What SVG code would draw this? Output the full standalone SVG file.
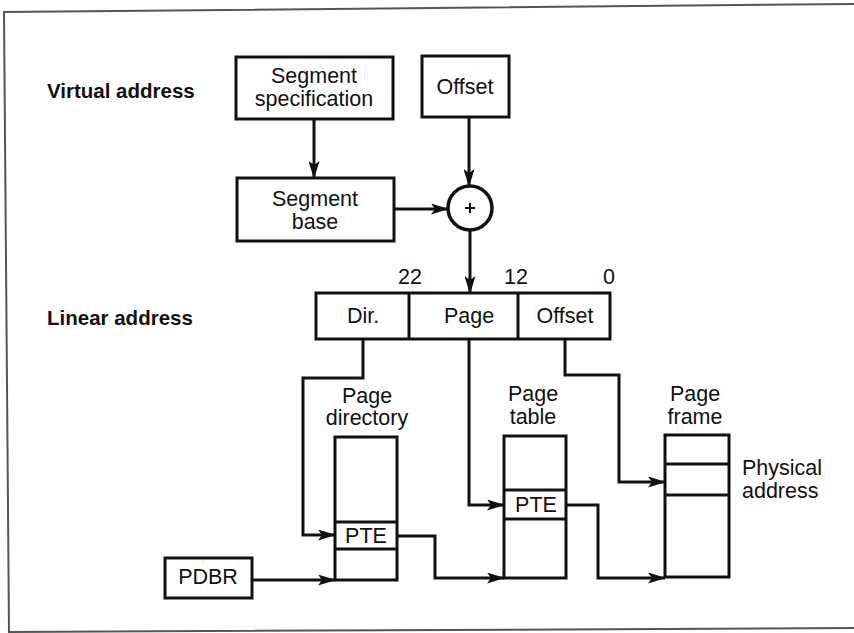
<svg xmlns="http://www.w3.org/2000/svg" width="854" height="633" viewBox="0 0 854 633">
<defs>
<marker id="ah" viewBox="0 0 18 11" refX="17" refY="5.5" markerWidth="18" markerHeight="11" markerUnits="userSpaceOnUse" orient="auto">
<path d="M0,0 L18,5.5 L0,11 L4,5.5 Z" fill="#111"/>
</marker>
<style>
.box{fill:#fff;stroke:#111;stroke-width:3}
.t{font-family:"Liberation Sans",Arial,sans-serif;font-size:21.5px;fill:#111;text-anchor:middle;dominant-baseline:central}
.b{font-family:"Liberation Sans",Arial,sans-serif;font-size:20.5px;font-weight:bold;fill:#111;dominant-baseline:central}
.l{fill:none;stroke:#111;stroke-width:3}
.c{fill:none;stroke:#111;stroke-width:3;marker-end:url(#ah)}
.frame{fill:none;stroke:#555;stroke-width:2}
</style>
</defs>
<rect width="854" height="633" fill="#fff"/>
<path class="frame" d="M854,4 L4,12 L9,633 M9,632 L854,628"/>

<text class="b" x="47" y="90">Virtual address</text>
<text class="b" x="47" y="317">Linear address</text>

<g id="seg-spec"><rect class="box" x="236" y="57" width="157" height="62"/><text class="t" x="314" y="76">Segment</text><text class="t" x="314" y="99">specification</text></g>
<g id="offset-v"><rect class="box" x="422" y="56" width="87" height="61"/><text class="t" x="465" y="87">Offset</text></g>
<g id="seg-base"><rect class="box" x="237" y="178" width="157" height="63"/><text class="t" x="315" y="199">Segment</text><text class="t" x="315" y="222">base</text></g>
<g id="adder"><circle cx="470" cy="208" r="22" fill="#fff" stroke="#111" stroke-width="3.5"/><path d="M465,208 H475 M470,203 V213" stroke="#111" stroke-width="2"/></g>

<g id="bits"><text class="t" x="410" y="277">22</text><text class="t" x="516" y="277">12</text><text class="t" x="609" y="277">0</text></g>
<g id="linear">
<rect class="box" x="316" y="293" width="294" height="46"/>
<line class="l" x1="409" y1="293" x2="409" y2="339"/>
<line class="l" x1="518" y1="293" x2="518" y2="339"/>
<text class="t" x="363" y="316">Dir.</text><text class="t" x="469" y="316">Page</text><text class="t" x="565" y="316">Offset</text>
</g>

<g id="page-dir">
<text class="t" x="367" y="396">Page</text><text class="t" x="367" y="418">directory</text>
<rect class="box" x="335" y="437" width="62" height="143"/>
<line class="l" x1="335" y1="522" x2="397" y2="522"/>
<line class="l" x1="335" y1="549" x2="397" y2="549"/>
<text class="t" x="366" y="536">PTE</text>
</g>
<g id="pdbr"><rect class="box" x="165" y="558" width="87" height="40"/><text class="t" x="208" y="577">PDBR</text></g>

<g id="page-table">
<text class="t" x="533" y="394">Page</text><text class="t" x="533" y="417">table</text>
<rect class="box" x="504" y="436" width="62" height="142"/>
<line class="l" x1="504" y1="490" x2="566" y2="490"/>
<line class="l" x1="504" y1="519" x2="566" y2="519"/>
<text class="t" x="536" y="505">PTE</text>
</g>

<g id="page-frame">
<text class="t" x="695" y="394">Page</text><text class="t" x="695" y="417">frame</text>
<rect class="box" x="665" y="435" width="64" height="142"/>
<line class="l" x1="665" y1="464" x2="729" y2="464"/>
<line class="l" x1="665" y1="495" x2="729" y2="495"/>
</g>
<g id="phys"><text class="t" x="742" y="468" style="text-anchor:start">Physical</text><text class="t" x="742" y="491" style="text-anchor:start">address</text></g>

<g id="connectors">
<path class="c" d="M314,119 V178"/>
<path class="c" d="M469,117 V186"/>
<path class="c" d="M394,209 H448"/>
<path class="c" d="M470,230 V293"/>
<path class="c" d="M363,339 V378 H303 V535 H335"/>
<path class="c" d="M252,580 H335"/>
<path class="c" d="M397,536 H435 V578 H504"/>
<path class="c" d="M469,339 V505 H504"/>
<path class="c" d="M566,505 H598 V578 H665"/>
<path class="c" d="M565,339 V375 H619 V482 H665"/>
</g>
</svg>
